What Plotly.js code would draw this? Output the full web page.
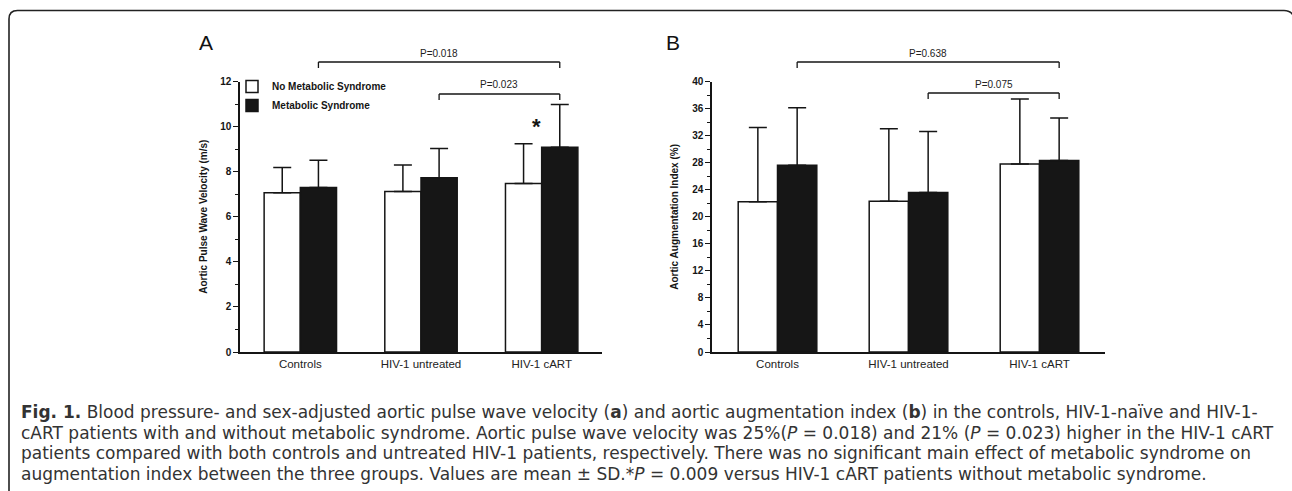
<!DOCTYPE html>
<html>
<head>
<meta charset="utf-8">
<script src="https://cdn.plot.ly/plotly-3.0.1.min.js"></script>
<style>
  html, body { margin: 0; padding: 0; background: #fff; }
  #chart { width: 1292px; height: 491px; }
</style>
</head>
<body>
<div id="chart"></div>
<script>
// ---------- DATA ----------
const categories = ['Controls', 'HIV-1 untreated', 'HIV-1 cART'];
const seriesNames = ['No Metabolic Syndrome', 'Metabolic Syndrome'];

// Panel A: aortic pulse wave velocity (m/s), mean and SD
const pwvNoMetS   = [7.07, 7.12, 7.48];
const pwvNoMetSSD = [1.11, 1.18, 1.76];
const pwvMetS     = [7.30, 7.73, 9.08];
const pwvMetSSD   = [1.21, 1.30, 1.90];

// Panel B: aortic augmentation index (%), mean and SD
const aixNoMetS   = [22.2, 22.3, 27.8];
const aixNoMetSSD = [11.0, 10.7, 9.6];
const aixMetS     = [27.6, 23.6, 28.3];
const aixMetSSD   = [8.5, 9.0, 6.3];

// Significance brackets (category indexes, between Metabolic Syndrome bars)
const bracketFromA  = [0, 1];
const bracketToA    = [2, 2];
const bracketLabelA = ['P=0.018', 'P=0.023'];
const bracketFromB  = [0, 1];
const bracketToB    = [2, 2];
const bracketLabelB = ['P=0.638', 'P=0.075'];

// Star marker: Metabolic Syndrome vs none in HIV-1 cART (panel A)
const starGroupA = 2;
const starLabel = '*';

const captionLines = [
  '<b>Fig. 1.</b> Blood pressure- and sex-adjusted aortic pulse wave velocity (<b>a</b>) and aortic augmentation index (<b>b</b>) in the controls, HIV-1-naïve and HIV-1-',
  'cART patients with and without metabolic syndrome. Aortic pulse wave velocity was 25%(<i>P</i> = 0.018) and 21% (<i>P</i> = 0.023) higher in the HIV-1 cART',
  'patients compared with both controls and untreated HIV-1 patients, respectively. There was no significant main effect of metabolic syndrome on',
  'augmentation index between the three groups. Values are mean ± SD.*<i>P</i> = 0.009 versus HIV-1 cART patients without metabolic syndrome.'
];

// ---------- LAYOUT HELPERS ----------
const W = 1292, H = 491;
const px = v => v / W;          // pixel x -> paper
const py = v => 1 - v / H;      // pixel y -> paper
const BARGAP = 0.4;
const metOffset = (1 - BARGAP) / 4;   // centre offset of the 2nd bar in a group

const FONT = 'Arial, "Liberation Sans", Helvetica, sans-serif';
const CAPTION_FONT = '"DejaVu Sans", Verdana, sans-serif';
const INK = '#151515';
const WHITE_FILL = '#ffffff';
const BLACK_FILL = '#161616';

function barTrace(y, sd, name, fill, xa, ya, showlegend) {
  return {
    type: 'bar', x: categories, y: y, name: name,
    xaxis: xa, yaxis: ya, showlegend: showlegend,
    marker: { color: fill, line: { color: INK, width: 1.5 } },
    error_y: { type: 'data', symmetric: false, array: sd,
               arrayminus: sd.map(() => 0), color: INK, thickness: 1.5, width: 9 },
    hoverinfo: 'x+y'
  };
}

const data = [
  barTrace(pwvNoMetS, pwvNoMetSSD, seriesNames[0], WHITE_FILL, 'x', 'y', true),
  barTrace(pwvMetS,   pwvMetSSD,   seriesNames[1], BLACK_FILL, 'x', 'y', true),
  barTrace(aixNoMetS, aixNoMetSSD, seriesNames[0], WHITE_FILL, 'x2', 'y2', false),
  barTrace(aixMetS,   aixMetSSD,   seriesNames[1], BLACK_FILL, 'x2', 'y2', false)
];

const plotTop = 81.5, plotBottom = 352;
const yDomain = [py(plotBottom), py(plotTop)];

function xAxis(domain, anchor) {
  return {
    domain: domain, anchor: anchor, type: 'category',
    range: [-0.5, categories.length - 0.5],
    showline: true, linecolor: INK, linewidth: 1.5,
    ticks: '', showgrid: false, zeroline: false, fixedrange: true,
    tickfont: { family: FONT, size: 11.5, color: '#222' }
  };
}
function yAxis(domain, anchor, max, dtick) {
  return {
    domain: domain, anchor: anchor, range: [0, max],
    showline: true, linecolor: INK, linewidth: 1.5,
    ticks: 'outside', ticklen: 5, tickwidth: 1.3, tickcolor: INK,
    dtick: dtick, tick0: 0,
    minor: { ticks: 'outside', ticklen: 3, tickwidth: 1.1, tickcolor: INK, dtick: dtick / 2, showgrid: false },
    showgrid: false, zeroline: false, fixedrange: true,
    tickfont: { family: FONT, size: 10, color: INK, weight: 'bold' }
  };
}

const shapes = [];
const annotations = [];

function addBrackets(xref, from, to, labels, levelsPx) {
  for (let i = 0; i < from.length; i++) {
    const x0 = from[i] + metOffset, x1 = to[i] + metOffset;
    const yTop = levelsPx[i], yLeg = levelsPx[i] + 6;
    const line = { color: INK, width: 1.3 };
    shapes.push({ type: 'line', xref: xref, yref: 'paper', x0: x0, x1: x1, y0: py(yTop), y1: py(yTop), line: line });
    shapes.push({ type: 'line', xref: xref, yref: 'paper', x0: x0, x1: x0, y0: py(yTop), y1: py(yLeg), line: line });
    shapes.push({ type: 'line', xref: xref, yref: 'paper', x0: x1, x1: x1, y0: py(yTop), y1: py(yLeg), line: line });
    annotations.push({ xref: xref, yref: 'paper', x: (x0 + x1) / 2, y: py(yTop - 9), text: labels[i],
      showarrow: false, xanchor: 'center', yanchor: 'middle',
      font: { family: FONT, size: 10, color: '#222' } });
  }
}
addBrackets('x', bracketFromA, bracketToA, bracketLabelA, [62, 94]);
addBrackets('x2', bracketFromB, bracketToB, bracketLabelB, [62, 93]);

// star above cART metabolic-syndrome bar
annotations.push({ xref: 'x', yref: 'y', x: starGroupA - 0.04, y: 10.0, text: starLabel,
  showarrow: false, xanchor: 'center', yanchor: 'middle',
  font: { family: FONT, size: 22, color: INK, weight: 'bold' } });

// panel letters
annotations.push({ xref: 'paper', yref: 'paper', x: px(206), y: py(42), text: 'A', showarrow: false,
  xanchor: 'center', yanchor: 'middle', font: { family: FONT, size: 21, color: '#111' } });
annotations.push({ xref: 'paper', yref: 'paper', x: px(673), y: py(42), text: 'B', showarrow: false,
  xanchor: 'center', yanchor: 'middle', font: { family: FONT, size: 21, color: '#111' } });

// y-axis titles
annotations.push({ xref: 'paper', yref: 'paper', x: px(204), y: (yDomain[0] + yDomain[1]) / 2,
  text: 'Aortic Pulse Wave Velocity (m/s)', textangle: -90, showarrow: false,
  xanchor: 'center', yanchor: 'middle', font: { family: FONT, size: 10, color: INK, weight: 'bold' } });
annotations.push({ xref: 'paper', yref: 'paper', x: px(675), y: (yDomain[0] + yDomain[1]) / 2,
  text: 'Aortic Augmentation Index (%)', textangle: -90, showarrow: false,
  xanchor: 'center', yanchor: 'middle', font: { family: FONT, size: 10, color: INK, weight: 'bold' } });

// caption: one annotation per line, 20.5px pitch
const captionY = [412, 432.5, 453, 473.5];
captionLines.forEach((t, i) => {
  annotations.push({ xref: 'paper', yref: 'paper', x: px(19), y: py(captionY[i]), text: t,
    showarrow: false, xanchor: 'left', yanchor: 'middle', align: 'left',
    font: { family: CAPTION_FONT, size: 17, color: '#333333' } });
});

// figure frame (rounded top-left corner, open bottom)
const frame = 'M ' + px(9) + ',' + py(491) + ' L ' + px(9) + ',' + py(19) +
  ' Q ' + px(9) + ',' + py(10.5) + ' ' + px(17.5) + ',' + py(10.5) +
  ' L ' + px(1284) + ',' + py(10.5) +
  ' Q ' + px(1290) + ',' + py(10.5) + ' ' + px(1293) + ',' + py(15);
shapes.push({ type: 'path', xref: 'paper', yref: 'paper', path: frame, line: { color: '#222', width: 1.6 } });

const layout = {
  width: W, height: H,
  margin: { l: 0, r: 0, t: 0, b: 0, pad: 0 },
  paper_bgcolor: '#fff', plot_bgcolor: 'rgba(0,0,0,0)',
  barmode: 'group', bargap: BARGAP, bargroupgap: 0,
  showlegend: true,
  legend: { x: px(232), y: py(72), xanchor: 'left', yanchor: 'top',
    bgcolor: 'rgba(0,0,0,0)', tracegroupgap: 0, itemwidth: 30,
    font: { family: FONT, size: 10, color: INK, weight: 'bold' } },
  xaxis: xAxis([px(240), px(602)], 'y'),
  yaxis: yAxis(yDomain, 'x', 12, 2),
  xaxis2: xAxis([px(712), px(1105)], 'y2'),
  yaxis2: yAxis(yDomain, 'x2', 40, 4),
  shapes: shapes,
  annotations: annotations
};

Plotly.newPlot('chart', data, layout, { displayModeBar: false, staticPlot: false, responsive: false });
</script>
</body>
</html>
